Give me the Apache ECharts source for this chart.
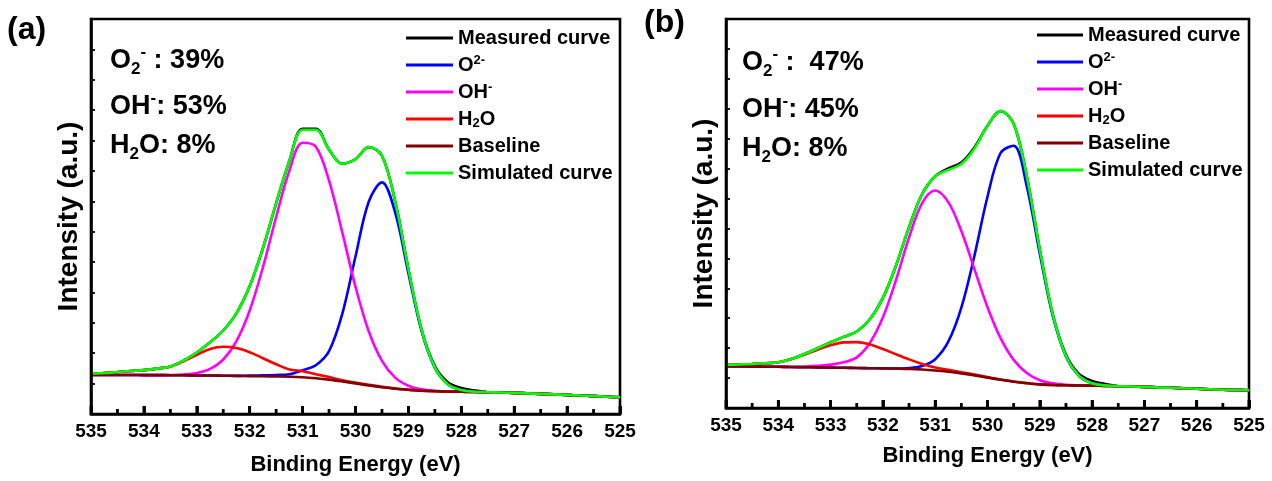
<!DOCTYPE html>
<html>
<head>
<meta charset="utf-8">
<script src="https://cdn.jsdelivr.net/npm/echarts/dist/echarts.min.js"></script>
<style>
  html, body { margin: 0; padding: 0; background: #fff; }
  #chart-container { width: 1272px; height: 481px; }
</style>
</head>
<body>
<div id="chart-container"></div>
<script>
// binding energy grid (eV)
var energy = [535, 534.75, 534.5, 534.25, 534, 533.75, 533.5, 533.25, 533, 532.75, 532.5, 532.25, 532, 531.75, 531.5, 531.25, 531, 530.75, 530.5, 530.25, 530, 529.75, 529.5, 529.25, 529, 528.75, 528.5, 528.25, 528, 527.75, 527.5, 527.25, 527, 526.75, 526.5, 526.25, 526, 525.75, 525.5, 525.25, 525];

var xTicks = [535, 534, 533, 532, 531, 530, 529, 528, 527, 526, 525];
var xMinorTicks = [534.5, 533.5, 532.5, 531.5, 530.5, 529.5, 528.5, 527.5, 526.5, 525.5];

// (a) intensities (a.u.)
var aMeasured = [40.5, 41.0, 42.0, 43.0, 43.9, 45.4, 47.5, 53.5, 61.5, 71.7, 83.5, 100.8, 127.9, 165.8, 210.7, 253.0, 285.3, 285.3, 264.4, 250.3, 254.9, 266.9, 258.3, 212.6, 145.1, 84.2, 47.8, 31.5, 26.0, 23.5, 21.8, 21.5, 21.1, 20.6, 20.1, 19.6, 19.1, 18.5, 17.9, 17.3, 16.7];
var aO2 = [39.0, 39.0, 39.0, 39.0, 38.9, 38.9, 38.8, 38.7, 38.6, 38.5, 38.3, 38.1, 38.4, 38.7, 39.0, 39.8, 43.8, 48.8, 62.9, 100.1, 157.5, 212.2, 231.6, 201.3, 140.9, 82.9, 46.2, 29.6, 24.0, 22.3, 21.8, 21.5, 21.1, 20.6, 20.1, 19.6, 19.1, 18.5, 17.9, 17.3, 16.7];
var aOH = [39.0, 39.0, 39.0, 39.0, 38.9, 38.9, 39.0, 39.5, 41.0, 45.1, 54.5, 72.9, 103.5, 146.7, 197.0, 243.3, 271.3, 267.3, 233.4, 181.6, 127.2, 82.8, 53.2, 36.4, 28.3, 24.6, 23.2, 22.5, 22.3, 22.0, 21.8, 21.5, 21.1, 20.6, 20.1, 19.6, 19.1, 18.5, 17.9, 17.3, 16.7];
var aH2O = [40.5, 41.0, 42.0, 43.0, 43.9, 45.4, 47.3, 52.7, 59.1, 65.1, 67.3, 66.0, 61.8, 55.8, 49.7, 44.5, 42.8, 39.8, 36.9, 33.8, 31.4, 29.1, 27.1, 25.5, 24.3, 23.3, 22.8, 22.5, 22.3, 22.0, 21.8, 21.5, 21.1, 20.6, 20.1, 19.6, 19.1, 18.5, 17.9, 17.3, 16.7];
var aBaseline = [39.0, 39.0, 39.0, 39.0, 38.9, 38.9, 38.8, 38.7, 38.6, 38.5, 38.3, 38.1, 37.9, 37.7, 37.5, 37.3, 36.8, 35.8, 34.4, 32.6, 30.6, 28.6, 26.8, 25.3, 24.2, 23.3, 22.8, 22.5, 22.3, 22.0, 21.8, 21.5, 21.1, 20.6, 20.1, 19.6, 19.1, 18.5, 17.9, 17.3, 16.7];
var aSimulated = [40.5, 41.0, 42.0, 43.0, 43.9, 45.4, 47.5, 53.5, 61.5, 71.7, 83.5, 100.8, 127.9, 165.8, 210.7, 253.0, 284.3, 284.3, 264.4, 250.3, 254.9, 266.9, 258.3, 212.6, 145.1, 84.2, 46.6, 29.6, 24.0, 22.3, 21.8, 21.5, 21.1, 20.6, 20.1, 19.6, 19.1, 18.5, 17.9, 17.3, 16.7];

// (b) intensities (a.u.)
var bMeasured = [43.0, 43.5, 44.0, 44.7, 45.7, 49.0, 54.0, 59.7, 65.7, 71.1, 76.5, 88.7, 110.1, 142.3, 180.9, 214.0, 231.8, 239.5, 245.5, 260.5, 282.2, 296.9, 284.2, 232.1, 158.5, 93.3, 53.3, 34.0, 27.0, 24.0, 21.8, 21.5, 21.1, 20.6, 20.2, 19.7, 19.3, 18.8, 18.3, 18.0, 17.7];
var bO2 = [41.5, 41.5, 41.4, 41.3, 41.2, 41.0, 40.8, 40.6, 40.4, 40.2, 40.0, 39.8, 39.6, 39.4, 40.0, 42.0, 48.8, 66.3, 100.4, 152.3, 211.3, 255.0, 262.2, 221.8, 154.3, 91.7, 51.4, 32.0, 24.8, 22.6, 21.8, 21.5, 21.1, 20.6, 20.2, 19.7, 19.3, 18.8, 18.3, 18.0, 17.7];
var bOH = [41.5, 41.5, 41.4, 41.3, 41.2, 41.0, 41.5, 42.1, 43.4, 45.7, 50.6, 65.0, 90.7, 128.0, 170.5, 204.9, 217.5, 205.9, 177.0, 138.8, 100.8, 69.8, 48.1, 35.0, 27.8, 24.6, 23.2, 22.7, 22.3, 22.1, 21.8, 21.5, 21.1, 20.6, 20.2, 19.7, 19.3, 18.8, 18.3, 18.0, 17.7];
var bH2O = [43.0, 43.5, 44.0, 44.7, 45.7, 49.0, 53.3, 58.2, 62.7, 65.6, 65.9, 63.5, 59.0, 53.7, 48.6, 44.1, 40.5, 38.2, 35.8, 33.4, 30.9, 28.5, 26.5, 24.9, 23.6, 23.0, 22.7, 22.5, 22.3, 22.1, 21.8, 21.5, 21.1, 20.6, 20.2, 19.7, 19.3, 18.8, 18.3, 18.0, 17.7];
var bBaseline = [41.5, 41.5, 41.4, 41.3, 41.2, 41.0, 40.8, 40.6, 40.4, 40.2, 40.0, 39.8, 39.6, 39.4, 39.1, 38.5, 37.5, 36.2, 34.6, 32.6, 30.4, 28.2, 26.3, 24.8, 23.6, 23.0, 22.7, 22.5, 22.3, 22.1, 21.8, 21.5, 21.1, 20.6, 20.2, 19.7, 19.3, 18.8, 18.3, 18.0, 17.7];
var bSimulated = [43.0, 43.5, 44.0, 44.7, 45.7, 49.0, 54.0, 59.7, 65.7, 71.1, 76.5, 88.7, 110.1, 142.3, 180.9, 214.0, 231.8, 238.0, 244.0, 259.3, 282.2, 296.9, 284.2, 232.1, 158.5, 93.3, 51.9, 32.2, 24.8, 22.6, 21.8, 21.5, 21.1, 20.6, 20.2, 19.7, 19.3, 18.8, 18.3, 18.0, 17.7];

var seriesNames = ['Measured curve', 'O2-', 'OH-', 'H2O', 'Baseline', 'Simulated curve'];
var seriesColors = ['#000000', '#0000ff', '#ff00ff', '#ff0000', '#800000', '#00ff00'];

var FONT = '"Liberation Sans", Arial, Helvetica, sans-serif';

var dom = document.getElementById('chart-container');
var myChart = echarts.init(dom, null, { renderer: 'canvas' });

function pairs(vals) {
  return energy.map(function (e, i) {
    return [e, vals[i]];
  });
}

function panelSeries(idx, sets) {
  return sets.map(function (vals, k) {
    return {
      type: 'line',
      name: seriesNames[k],
      xAxisIndex: idx,
      yAxisIndex: idx,
      data: pairs(vals),
      color: seriesColors[k],
      showSymbol: false,
      smooth: 0.35,
      lineStyle: { width: 2.6, color: seriesColors[k] },
      z: 2 + k
    };
  });
}

// inward tick marks on the energy axis, placed through the axis scale
function tickSeries(idx) {
  return {
    type: 'custom',
    name: 'ticks',
    xAxisIndex: idx,
    yAxisIndex: idx,
    silent: true,
    clip: false,
    z: 20,
    data: xTicks.concat(xMinorTicks).map(function (v) { return [v, 0]; }),
    renderItem: function (params, api) {
      var v = api.value(0);
      var p = api.coord([v, 0]);
      var len = xTicks.indexOf(v) >= 0 ? 8 : 5;
      return {
        type: 'line',
        shape: { x1: p[0], y1: p[1], x2: p[0], y2: p[1] - len },
        style: { stroke: '#000', lineWidth: 2.8 }
      };
    }
  };
}

function xAxisFor(idx) {
  return {
    type: 'value',
    gridIndex: idx,
    position: 'bottom',
    min: 525,
    max: 535,
    interval: 1,
    inverse: true,
    z: 10,
    name: 'Binding Energy (eV)',
    nameLocation: 'middle',
    nameGap: idx === 0 ? 40 : 37,
    nameTextStyle: { fontSize: 22, fontWeight: 'bold', color: '#000', fontFamily: FONT },
    axisLine: { show: true, lineStyle: { color: '#000', width: 2.6 } },
    axisTick: { show: true, inside: true, length: 8, lineStyle: { color: '#000', width: 2.8 } },
    axisLabel: {
      fontSize: 19, fontWeight: 'bold', color: '#000', fontFamily: FONT, margin: 8,
      formatter: function (v) { return xTicks.indexOf(v) >= 0 ? String(v) : ''; }
    },
    splitLine: { show: false }
  };
}

function yAxisFor(idx, h) {
  return {
    type: 'value',
    gridIndex: idx,
    min: 0,
    max: h,
    interval: h / 13,
    z: 10,
    name: 'Intensity (a.u.)',
    nameLocation: 'middle',
    nameGap: 8,
    nameTextStyle: { fontSize: 28, fontWeight: 'bold', color: '#000', fontFamily: FONT },
    axisLine: { show: true, lineStyle: { color: '#000', width: 2.6 } },
    axisTick: { show: true, inside: true, length: 4, lineStyle: { color: '#000', width: 1.8 } },
    axisLabel: { show: false },
    splitLine: { show: false }
  };
}

var legendRich = {
  n: { fontSize: 20, fontWeight: 'bold', fontFamily: FONT, color: '#000', lineHeight: 22 },
  sup: { fontSize: 13, fontWeight: 'bold', fontFamily: FONT, color: '#000', lineHeight: 12, verticalAlign: 'top' },
  sub: { fontSize: 13, fontWeight: 'bold', fontFamily: FONT, color: '#000', lineHeight: 10, verticalAlign: 'bottom' }
};

function legendLabel(name) {
  if (name === 'O2-') return '{n|O}{sup|2-}';
  if (name === 'OH-') return '{n|OH}{sup|-}';
  if (name === 'H2O') return '{n|H}{sub|2}{n|O}';
  return '{n|' + name + '}';
}

function legendFor(left, top, w) {
  return {
    data: seriesNames,
    orient: 'vertical',
    left: left,
    top: top,
    icon: 'rect',
    itemWidth: w,
    itemHeight: 3,
    itemGap: 5,
    padding: 0,
    selectedMode: false,
    formatter: legendLabel,
    textStyle: { fontSize: 20, fontWeight: 'bold', color: '#000', fontFamily: FONT, lineHeight: 22, rich: legendRich }
  };
}

var noteRich = {
  m: { fontSize: 27, fontWeight: 'bold', fontFamily: FONT, fill: '#000', lineHeight: 34 },
  supA: { fontSize: 17, fontWeight: 'bold', fontFamily: FONT, fill: '#000', lineHeight: 26, verticalAlign: 'top' },
  supB: { fontSize: 17, fontWeight: 'bold', fontFamily: FONT, fill: '#000', lineHeight: 18, verticalAlign: 'top' },
  sub: { fontSize: 17, fontWeight: 'bold', fontFamily: FONT, fill: '#000', lineHeight: 12, verticalAlign: 'bottom' }
};

function note(x, y, text) {
  return {
    type: 'text',
    x: x,
    y: y,
    style: { text: text, rich: noteRich, verticalAlign: 'middle', fill: '#000', font: 'bold 27px ' + FONT }
  };
}

var option = {
  animation: false,
  backgroundColor: '#fff',
  textStyle: { fontFamily: FONT },
  grid: [
    { left: 91, top: 19, width: 529, height: 395, show: true, borderColor: '#000', borderWidth: 2.6, containLabel: false, outerBoundsMode: 'none' },
    { left: 726, top: 19, width: 523, height: 389, show: true, borderColor: '#000', borderWidth: 2.6, containLabel: false, outerBoundsMode: 'none' }
  ],
  xAxis: [xAxisFor(0), xAxisFor(1)],
  yAxis: [yAxisFor(0, 395), yAxisFor(1, 389)],
  legend: [legendFor(406, 27, 47), legendFor(1037, 24, 46)],
  series: panelSeries(0, [aMeasured, aO2, aOH, aH2O, aBaseline, aSimulated])
    .concat(panelSeries(1, [bMeasured, bO2, bOH, bH2O, bBaseline, bSimulated]))
    .concat([tickSeries(0), tickSeries(1)]),
  graphic: [
    { type: 'text', x: 7, y: 30, style: { text: '(a)', fill: '#000', verticalAlign: 'middle', font: 'bold 32px ' + FONT } },
    { type: 'text', x: 644, y: 23, style: { text: '(b)', fill: '#000', verticalAlign: 'middle', font: 'bold 32px ' + FONT } },
    note(110, 61, '{m|O}{sub|2}{supA|-}{m| : 39%}'),
    note(110, 107, '{m|OH}{supB|-}{m|: 53%}'),
    note(110, 146, '{m|H}{sub|2}{m|O: 8%}'),
    note(742, 63, '{m|O}{sub|2}{supA|-}{m| :  47%}'),
    note(742, 110, '{m|OH}{supB|-}{m|: 45%}'),
    note(742, 149, '{m|H}{sub|2}{m|O: 8%}')
  ]
};

if (option && typeof option === 'object') {
  myChart.setOption(option);
}

window.addEventListener('resize', myChart.resize);
</script>
</body>
</html>
